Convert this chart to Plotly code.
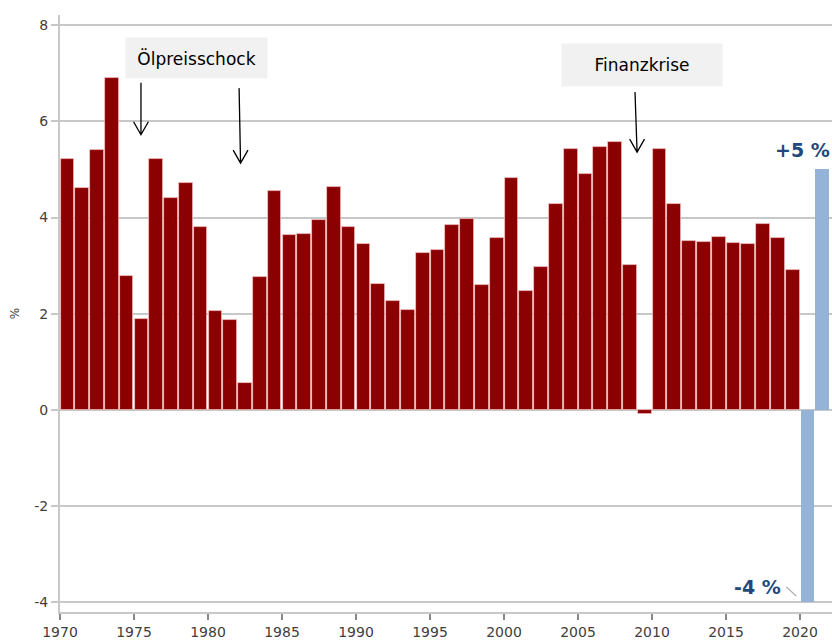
import plotly.graph_objects as go

# ---- data ----
years = list(range(1970, 2020))
growth = [5.21, 4.61, 5.41, 6.91, 2.79, 1.89, 5.21, 4.40, 4.71, 3.80,
          2.06, 1.86, 0.56, 2.77, 4.55, 3.63, 3.66, 3.94, 4.64, 3.80,
          3.44, 2.61, 2.27, 2.08, 3.26, 3.33, 3.85, 3.97, 2.60, 3.58,
          4.82, 2.47, 2.97, 4.28, 5.42, 4.91, 5.47, 5.56, 3.02, -0.08,
          5.42, 4.28, 3.51, 3.49, 3.59, 3.48, 3.44, 3.87, 3.58, 2.90]
forecast_years = [2020, 2021]
forecast = [-4.0, 5.0]
forecast_labels = ["-4 %", "+5 %"]
x_ticks = list(range(1970, 2021, 5))
y_ticks = [-4, -2, 0, 2, 4, 6, 8]
y_ticktext = [str(v) for v in y_ticks]

RED = "#8B0000"
BLUE = "#95B3D7"
LABEL = "#1F497D"
GRID = "#c8c8c8"
FONT = "DejaVu Sans"

fig = go.Figure()
fig.add_trace(go.Bar(x=years, y=growth, width=0.93, offset=0.035,
                     marker=dict(color=RED, line=dict(color="rgba(255,210,210,0.8)", width=0.8)),
                     showlegend=False, hoverinfo="x+y"))
fig.add_trace(go.Bar(x=forecast_years, y=forecast, width=0.93, offset=0.035,
                     marker=dict(color=BLUE, line=dict(width=0)),
                     showlegend=False, hoverinfo="x+y"))

annotations = []
# forecast labels
annotations.append(dict(x=forecast_years[0], y=forecast[0], xref="x", yref="y",
                        text="<b>%s</b>" % forecast_labels[0], showarrow=False,
                        xanchor="right", yanchor="middle", xshift=-17, yshift=15,
                        font=dict(family=FONT, size=19, color=LABEL)))
annotations.append(dict(x=forecast_years[1], y=forecast[1], xref="x", yref="y",
                        text="<b>%s</b>" % forecast_labels[1], showarrow=False,
                        xanchor="left", yanchor="middle", xshift=-42, yshift=19,
                        font=dict(family=FONT, size=19, color=LABEL)))
# event boxes
box_font = dict(family=FONT, size=17, color="#000000")
annotations.append(dict(x=1979.22, y=7.32, xref="x", yref="y", text="Ölpreisschock",
                        showarrow=False, bgcolor="#f1f1f1", borderpad=0,
                        width=141, height=40, font=box_font))
annotations.append(dict(x=2009.32, y=7.17, xref="x", yref="y", text="Finanzkrise",
                        showarrow=False, bgcolor="#f1f1f1", borderpad=0,
                        width=160, height=42, font=box_font))

shapes = []
def arrow(x0, y0, x1, y1):
    dx, dy = 0.5, 0.27
    path = f"M {x0},{y0} L {x1},{y1} M {x1-dx},{y1+dy} L {x1},{y1} L {x1+dx},{y1+dy}"
    shapes.append(dict(type="path", path=path, xref="x", yref="y",
                       line=dict(color="#000000", width=1.3)))

arrow(1975.47, 6.80, 1975.47, 5.72)
arrow(1982.10, 6.69, 1982.20, 5.13)
arrow(2008.85, 6.61, 2008.99, 5.36)

# leader line for -4 % label
shapes.append(dict(type="line", xref="x", yref="y", x0=2019.08, y0=-3.68, x1=2019.75, y1=-3.87,
                   line=dict(color="#aaaaaa", width=1.2)))

fig.update_layout(
    width=832, height=642, autosize=False,
    margin=dict(l=60, r=0, t=15, b=30, autoexpand=False),
    paper_bgcolor="white", plot_bgcolor="white",
    bargap=0,
    font=dict(family=FONT, color="#404040"),
    annotations=annotations, shapes=shapes,
)
fig.update_xaxes(range=[1970, 2022.16], tickvals=x_ticks, ticks="outside", ticklen=6,
                 tickcolor="#888888", tickwidth=1.5,
                 showgrid=False, showline=True, linecolor=GRID, linewidth=2,
                 tickfont=dict(family=FONT, size=14, color="#404040"), zeroline=False)
fig.update_yaxes(range=[-4.2, 8.21], tickvals=y_ticks, ticktext=y_ticktext,
                 ticks="outside", ticklen=7,
                 tickcolor=GRID, tickwidth=1.5,
                 showgrid=True, gridcolor=GRID, gridwidth=1.5,
                 showline=True, linecolor=GRID, linewidth=2, zeroline=False,
                 tickfont=dict(family=FONT, size=14, color="#404040"),
                 title=dict(text="%", font=dict(family=FONT, size=12, color="#404040"), standoff=12))

fig.write_html("out.html", config={"displayModeBar": False},
               post_script="document.body.style.margin='0';document.body.style.overflow='hidden';")
